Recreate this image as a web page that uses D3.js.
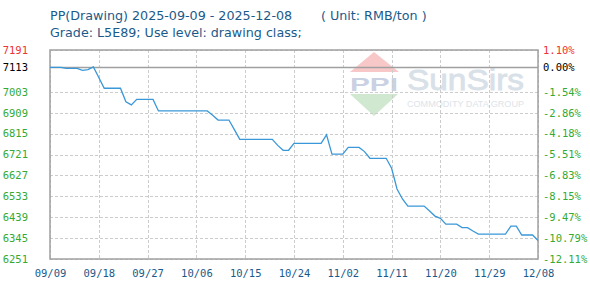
<!DOCTYPE html>
<html><head><meta charset="utf-8">
<script src="https://cdn.jsdelivr.net/npm/d3@7"></script>
<style>body{margin:0;background:#fff}svg{display:block}</style>
</head><body><svg id="c" width="590" height="288"></svg>
<script>
const titleLine1 = "PP(Drawing) 2025-09-09 - 2025-12-08";
const unitText = "( Unit: RMB/ton )";
const titleLine2 = "Grade: L5E89; Use level: drawing class;";

const dates = ["2025-09-09","2025-09-11","2025-09-12","2025-09-14","2025-09-15","2025-09-16","2025-09-17","2025-09-18","2025-09-19","2025-09-22","2025-09-23","2025-09-24","2025-09-25","2025-09-28","2025-09-29","2025-10-08","2025-10-09","2025-10-10","2025-10-12","2025-10-13","2025-10-14","2025-10-20","2025-10-21","2025-10-22","2025-10-23","2025-10-24","2025-10-29","2025-10-30","2025-10-31","2025-11-02","2025-11-03","2025-11-05","2025-11-06","2025-11-07","2025-11-10","2025-11-11","2025-11-12","2025-11-13","2025-11-14","2025-11-17","2025-11-18","2025-11-19","2025-11-20","2025-11-21","2025-11-23","2025-11-24","2025-11-25","2025-11-26","2025-11-27","2025-12-02","2025-12-03","2025-12-04","2025-12-05","2025-12-07","2025-12-08"];
const prices = [7113,7113,7108,7108,7099,7103,7115,7067,7019,7019,6958,6944,6969,6969,6917,6917,6898,6876,6876,6833,6789,6789,6762,6740,6740,6771,6771,6809,6723,6723,6753,6753,6734,6704,6704,6659,6566,6521,6489,6489,6467,6444,6434,6408,6408,6392,6392,6377,6363,6363,6399,6399,6359,6359,6334];

const yTicks = [7191,7113,7003,6909,6815,6721,6627,6533,6439,6345,6251];
const yTickColors = ["#ee3333","#000000","#33aa33","#33aa33","#33aa33","#33aa33","#33aa33","#33aa33","#33aa33","#33aa33","#33aa33"];
const pctLabels = ["1.10%","0.00%","-1.54%","-2.86%","-4.18%","-5.51%","-6.83%","-8.15%","-9.47%","-10.79%","-12.11%"];
const xTickDates = ["2025-09-09","2025-09-18","2025-09-27","2025-10-06","2025-10-15","2025-10-24","2025-11-02","2025-11-11","2025-11-20","2025-11-29","2025-12-08"];
const baseValue = 7113;

const parse = d3.timeParse("%Y-%m-%d");
const fmt = d3.timeFormat("%m/%d");
const svg = d3.select("#c");
const L = 50, R = 538, T = 50, B = 259;

const x = d3.scaleTime().domain([parse(xTickDates[0]), parse(xTickDates[xTickDates.length-1])]).range([L, R]);
const y = d3.scaleLinear().domain([6251, 7191]).range([B, T]);

// watermark
const wm = svg.append("g");
wm.append("path").attr("d","M374,52 L399,72 L350,72 Z").attr("fill","#f8c8c8");
wm.append("path").attr("d","M350,94 L398,94 L374,116 Z").attr("fill","#cfe8cf");
wm.append("text").attr("x",350).attr("y",91).attr("textLength",48).attr("lengthAdjust","spacingAndGlyphs")
  .attr("font-family","Liberation Sans").attr("font-weight","bold").attr("font-size",18).attr("fill","#c9d1e3").text("PPI");
wm.append("text").attr("x",407).attr("y",90).attr("textLength",117).attr("lengthAdjust","spacingAndGlyphs")
  .attr("font-family","Liberation Sans").attr("font-size",30).attr("stroke","#d8e0e8").attr("stroke-width",0.8)
  .attr("fill","#d8e0e8").text("SunSirs");
wm.append("text").attr("x",407).attr("y",107).attr("textLength",117).attr("lengthAdjust","spacingAndGlyphs")
  .attr("font-family","Liberation Sans").attr("font-size",9.5).attr("fill","#dde3e9").text("COMMODITY DATA GROUP");

// grid
const grid = svg.append("g").attr("stroke","#cccccc").attr("stroke-dasharray","3,2").attr("stroke-width",1);
yTicks.forEach(v => {
  if (v === baseValue) return;
  grid.append("line").attr("x1",L).attr("x2",R).attr("y1",Math.round(y(v))+0.5).attr("y2",Math.round(y(v))+0.5);
});
xTickDates.forEach(d => {
  const xx = Math.round(x(parse(d)))+0.5;
  grid.append("line").attr("x1",xx).attr("x2",xx).attr("y1",T).attr("y2",B);
});
svg.append("line").attr("x1",L).attr("x2",R).attr("y1",Math.round(y(baseValue))+0.5).attr("y2",Math.round(y(baseValue))+0.5)
  .attr("stroke","#a0a0a0").attr("stroke-width",1.5);

// frame
svg.append("rect").attr("x",L).attr("y",T).attr("width",R-L).attr("height",B-T)
  .attr("fill","none").attr("stroke","#a0a0a0").attr("stroke-width",1.5);

// line
const line = d3.line().x((d,i)=>x(parse(dates[i]))).y(d=>y(d));
svg.append("path").datum(prices).attr("d",line).attr("fill","none").attr("stroke","#3a98d8").attr("stroke-width",1.3);

// axes labels via d3 axes
const yLeft = d3.axisLeft(y).tickValues(yTicks).tickSize(0).tickFormat(d3.format("d"));
const gl = svg.append("g").attr("transform","translate(28,0)").call(yLeft);
gl.select(".domain").remove();
gl.selectAll("text").attr("font-family","DejaVu Sans Mono").attr("font-size",10.5).attr("x",0)
  .attr("fill",(d,i)=>yTickColors[i]);

const yRight = d3.axisRight(y).tickValues(yTicks).tickSize(0).tickFormat((d,i)=>pctLabels[i]);
const gr = svg.append("g").attr("transform","translate(543,0)").call(yRight);
gr.select(".domain").remove();
gr.selectAll("text").attr("font-family","DejaVu Sans Mono").attr("font-size",10.5).attr("x",0)
  .attr("fill",(d,i)=>yTickColors[i]);

const xAxis = d3.axisBottom(x).tickValues(xTickDates.map(parse)).tickSize(0).tickFormat(fmt);
const gx = svg.append("g").attr("transform","translate(0,267)").call(xAxis);
gx.select(".domain").remove();
gx.selectAll("text").attr("font-family","DejaVu Sans Mono").attr("font-size",10.5).attr("fill","#1a5a8a").attr("dy","0.71em");

// titles
const tf = {family:"DejaVu Sans", size:12.7, color:"#1a5a8a"};
svg.append("text").attr("x",50).attr("y",20).attr("font-family",tf.family).attr("font-size",tf.size).attr("fill",tf.color).text(titleLine1);
svg.append("text").attr("x",321).attr("y",20).attr("font-family",tf.family).attr("font-size",tf.size).attr("fill",tf.color).text(unitText);
svg.append("text").attr("x",50).attr("y",37).attr("font-family",tf.family).attr("font-size",tf.size).attr("fill",tf.color).text(titleLine2);
</script></body></html>
